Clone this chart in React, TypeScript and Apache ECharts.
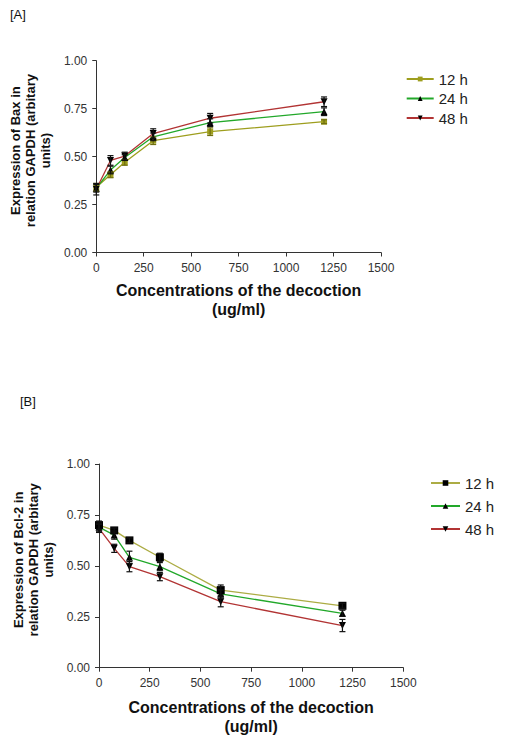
import React, { useEffect, useRef } from "react";
import * as echarts from "echarts";

const concentrations = [0, 75, 150, 300, 600, 1200];
const seriesNames = ["12 h", "24 h", "48 h"];

// Panel A: Bax
const baxMean12 = [0.34, 0.405, 0.47, 0.583, 0.63, 0.682];
const baxMean24 = [0.335, 0.43, 0.495, 0.603, 0.677, 0.734];
const baxMean48 = [0.33, 0.48, 0.503, 0.62, 0.7, 0.786];
const baxErr12 = [0.02, 0.015, 0.015, 0.02, 0.02, 0.01];
const baxErr24 = [0.02, 0.02, 0.015, 0.02, 0.02, 0.02];
const baxErr48 = [0.03, 0.025, 0.02, 0.025, 0.025, 0.025];

// Panel B: Bcl-2
const bclMean12 = [0.7, 0.674, 0.625, 0.542, 0.381, 0.304];
const bclMean24 = [0.69, 0.651, 0.542, 0.496, 0.362, 0.267];
const bclMean48 = [0.684, 0.586, 0.496, 0.447, 0.324, 0.207];
const bclErr12 = [0.02, 0.012, 0.012, 0.02, 0.025, 0.012];
const bclErr24 = [0.02, 0.02, 0.03, 0.02, 0.02, 0.015];
const bclErr48 = [0.02, 0.02, 0.025, 0.02, 0.025, 0.03];

const xTicks = [0, 250, 500, 750, 1000, 1250, 1500];
const yTicks = [0, 0.25, 0.5, 0.75, 1.0];

const OLIVE = "#9e9e1e";
const OLIVE_B = "#acac44";
const GREEN = "#22a82a";
const RED = "#b23434";

const FONT = "'Liberation Sans', Arial, sans-serif";

function pts(means: number[]) {
  return concentrations.map((c, i) => [c, means[i]]);
}
function errs(means: number[], e: number[]) {
  return concentrations.map((c, i) => [c, means[i] - e[i], means[i] + e[i]]);
}

function errorSeries(data: number[][], idx: number, color: string) {
  return {
    type: "custom",
    xAxisIndex: idx,
    yAxisIndex: idx,
    z: 5,
    silent: true,
    encode: { x: 0, y: [1, 2] },
    data,
    renderItem: (params: any, api: any) => {
      const x = api.value(0);
      const top = api.coord([x, api.value(2)]);
      const bot = api.coord([x, api.value(1)]);
      const hw = 3;
      const st = { stroke: color, lineWidth: 1.2 };
      return {
        type: "group",
        children: [
          { type: "line", shape: { x1: top[0], y1: top[1], x2: bot[0], y2: bot[1] }, style: st },
          { type: "line", shape: { x1: top[0] - hw, y1: top[1], x2: top[0] + hw, y2: top[1] }, style: st },
          { type: "line", shape: { x1: bot[0] - hw, y1: bot[1], x2: bot[0] + hw, y2: bot[1] }, style: st },
        ],
      };
    },
  };
}

function lineSeries(
  name: string,
  data: number[][],
  idx: number,
  lineColor: string,
  markColor: string,
  symbol: string,
  size: number,
  rotate = 0
) {
  return {
    name,
    type: "line",
    xAxisIndex: idx,
    yAxisIndex: idx,
    data,
    symbol,
    symbolSize: size,
    symbolRotate: rotate,
    showAllSymbol: true,
    z: 3,
    lineStyle: { color: lineColor, width: 1.3 },
    itemStyle: { color: markColor },
  };
}

function xAxisDef(idx: number, gap: number) {
  return {
    type: "value",
    gridIndex: idx,
    min: 0,
    max: 1500,
    interval: 250,
    name: "Concentrations of the decoction\n(ug/ml)",
    nameLocation: "middle",
    nameGap: gap,
    nameTextStyle: { fontFamily: FONT, fontWeight: "bold", fontSize: 16, lineHeight: 19, color: "#111" },
    axisLine: { lineStyle: { color: "#333", width: 1 } },
    axisTick: { show: true, length: 4, lineStyle: { color: "#333" } },
    splitLine: { show: false },
    axisLabel: {
      fontFamily: FONT,
      fontSize: 12,
      color: "#333",
      margin: 9,
      formatter: (v: number) => (xTicks.includes(v) ? String(v) : ""),
    },
  };
}

function yAxisDef(idx: number, name: string) {
  return {
    type: "value",
    gridIndex: idx,
    min: 0,
    max: 1,
    interval: 0.25,
    name,
    nameLocation: "middle",
    nameGap: 41,
    nameRotate: 90,
    nameTextStyle: {
      fontFamily: FONT,
      fontWeight: "bold",
      fontSize: 13,
      lineHeight: 15,
      color: "#111",
      padding: [0, 0, 0, 12],
    },
    axisLine: { show: true, lineStyle: { color: "#333", width: 1 } },
    axisTick: { show: true, length: 4, lineStyle: { color: "#333" } },
    splitLine: { show: false },
    axisLabel: {
      fontFamily: FONT,
      fontSize: 12,
      color: "#333",
      margin: 9,
      formatter: (v: number) => (yTicks.some((t) => Math.abs(t - v) < 1e-9) ? v.toFixed(2) : ""),
    },
  };
}

export default function App() {
  const ref = useRef<HTMLDivElement>(null);
  useEffect(() => {
    if (!ref.current) return;
    const chart = echarts.init(ref.current, undefined, { renderer: "svg" });
    const legendText = { fontFamily: FONT, fontSize: 15, color: "#222", lineHeight: 16 };
    chart.setOption({
      animation: false,
      backgroundColor: "#ffffff",
      graphic: [
        { type: "text", left: 10, top: 8, style: { text: "[A]", fontFamily: FONT, fontSize: 13, fill: "#111" } },
        { type: "text", left: 20, top: 395, style: { text: "[B]", fontFamily: FONT, fontSize: 13, fill: "#111" } },
      ],
      grid: [
        { left: 92.5, top: 60.7, width: 288.5, height: 191.8 },
        { left: 99, top: 464, width: 304.3, height: 203.7 },
      ],
      xAxis: [xAxisDef(0, 28.7), xAxisDef(1, 30.5)],
      yAxis: [
        yAxisDef(0, "Expression of Bax in\nrelation GAPDH (arbitary\nunits)"),
        yAxisDef(1, "Expression of Bcl-2 in\nrelation GAPDH (arbitary\nunits)"),
      ],
      legend: [
        {
          orient: "vertical",
          left: 400.7,
          top: 66,
          itemWidth: 27,
          itemHeight: 6,
          itemGap: 3.5,
          textStyle: legendText,
          data: ["A|12 h", "A|24 h", "A|48 h"],
          formatter: (n: string) => n.split("|")[1],
        },
        {
          orient: "vertical",
          left: 425,
          top: 470,
          itemWidth: 29,
          itemHeight: 7,
          itemGap: 7,
          textStyle: legendText,
          data: ["B|12 h", "B|24 h", "B|48 h"],
          formatter: (n: string) => n.split("|")[1],
        },
      ],
      series: [
        lineSeries("A|" + seriesNames[0], pts(baxMean12), 0, OLIVE, OLIVE, "rect", 6),
        lineSeries("A|" + seriesNames[1], pts(baxMean24), 0, GREEN, "#000", "triangle", 7),
        lineSeries("A|" + seriesNames[2], pts(baxMean48), 0, RED, "#000", "triangle", 7, 180),
        errorSeries(errs(baxMean12, baxErr12), 0, "#6f6f10"),
        errorSeries(errs(baxMean24, baxErr24), 0, "#111"),
        errorSeries(errs(baxMean48, baxErr48), 0, "#111"),
        lineSeries("B|" + seriesNames[0], pts(bclMean12), 1, OLIVE_B, "#000", "rect", 8),
        lineSeries("B|" + seriesNames[1], pts(bclMean24), 1, GREEN, "#000", "triangle", 7),
        lineSeries("B|" + seriesNames[2], pts(bclMean48), 1, RED, "#000", "triangle", 7, 180),
        errorSeries(errs(bclMean12, bclErr12), 1, "#111"),
        errorSeries(errs(bclMean24, bclErr24), 1, "#111"),
        errorSeries(errs(bclMean48, bclErr48), 1, "#111"),
      ],
    });
    return () => chart.dispose();
  }, []);
  return (
    <div
      ref={ref}
      style={{ position: "fixed", left: 0, top: 0, width: 519, height: 741, background: "#fff" }}
    />
  );
}
